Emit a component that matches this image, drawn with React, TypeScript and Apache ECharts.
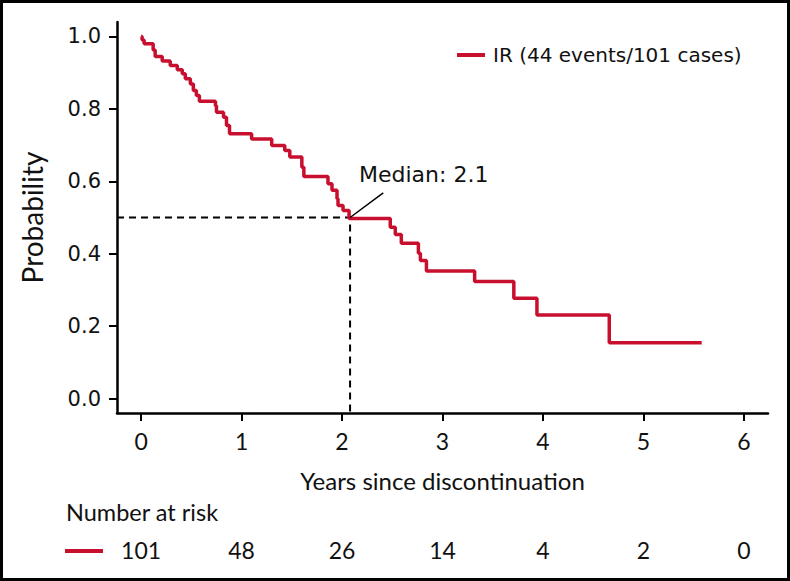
import React, { useEffect, useRef } from 'react';
import * as echarts from 'echarts';

// Kaplan-Meier step curve (time in years, survival probability after each event)
const times = [0, 0.01, 0.03, 0.12, 0.14, 0.21, 0.29, 0.36, 0.41, 0.44, 0.49, 0.52, 0.55, 0.58, 0.74, 0.75, 0.82, 0.85, 0.88, 1.10, 1.30, 1.43, 1.48, 1.60, 1.62, 1.86, 1.90, 1.95, 1.96, 2.01, 2.07, 2.48, 2.53, 2.59, 2.76, 2.78, 2.84, 3.32, 3.71, 3.94, 4.66, 5.58];
const survival = [1.0, 0.99, 0.98, 0.963, 0.945, 0.932, 0.92, 0.908, 0.897, 0.883, 0.869, 0.851, 0.837, 0.821, 0.809, 0.791, 0.777, 0.754, 0.731, 0.717, 0.699, 0.685, 0.667, 0.639, 0.613, 0.593, 0.575, 0.552, 0.533, 0.519, 0.497, 0.473, 0.453, 0.429, 0.401, 0.381, 0.352, 0.323, 0.277, 0.231, 0.154, 0.154];

const xTicks = [0, 1, 2, 3, 4, 5, 6];
const yTicks = [0, 0.2, 0.4, 0.6, 0.8, 1.0];
const atRisk = [101, 48, 26, 14, 4, 2, 0];

const medianTime = 2.08;
const medianSurv = 0.5;
const medianLabel = 'Median: 2.1';
const leaderEnd = [2.41, 0.568];
const seriesName = 'IR (44 events/101 cases)';

const X_MIN = -0.24;
const X_MAX = 6.24;
const Y_MIN = -0.04;
const Y_MAX = 1.04;

const RED = '#c8102e';
const INK = '#111111';
const SANS = "'DejaVu Sans', sans-serif";
const COND = "Lato, sans-serif";

export default function App() {
  const ref = useRef<HTMLDivElement>(null);

  useEffect(() => {
    document.body.style.margin = '0';
    if (!ref.current) return;
    const chart = echarts.init(ref.current, undefined, { renderer: 'svg' });
    const kmData = times.map((t, i) => [t, survival[i]]);

    chart.setOption({
      animation: false,
      backgroundColor: '#ffffff',
      grid: [
        { left: 117, right: 22, top: 22, bottom: 168, outerBoundsMode: 'none' },
        { left: 117, right: 22, top: 530, height: 2, outerBoundsMode: 'none' },
      ],
      legend: {
        data: [seriesName],
        left: 457,
        top: 45,
        padding: 0,
        icon: 'rect',
        itemWidth: 28,
        itemHeight: 4,
        textStyle: { fontFamily: SANS, fontSize: 20, color: INK, padding: [0, 0, 0, 3] },
      },
      xAxis: [
        {
          type: 'value',
          gridIndex: 0,
          min: X_MIN,
          max: X_MAX,
          splitLine: { show: false },
          axisLine: { onZero: false, lineStyle: { color: '#000', width: 2.5 } },
          axisTick: { customValues: xTicks, length: 8, lineStyle: { color: '#000', width: 2 } },
          axisLabel: { customValues: xTicks, margin: 16, color: INK, fontFamily: COND, fontSize: 23 },
          name: 'Years since discontinuation',
          nameLocation: 'middle',
          nameGap: 55,
          nameTextStyle: { fontFamily: COND, fontSize: 24, color: INK },
        },
        {
          type: 'value',
          gridIndex: 1,
          min: X_MIN,
          max: X_MAX,
          splitLine: { show: false },
          axisLine: { show: false },
          axisTick: { show: false },
          axisLabel: {
            customValues: xTicks,
            margin: 6,
            color: INK,
            fontFamily: COND,
            fontSize: 23,
            formatter: (v: number) => String(atRisk[xTicks.indexOf(Math.round(v))]),
          },
        },
      ],
      yAxis: [
        {
          type: 'value',
          gridIndex: 0,
          min: Y_MIN,
          max: Y_MAX,
          splitLine: { show: false },
          axisLine: { show: true, onZero: false, lineStyle: { color: '#000', width: 2.5 } },
          axisTick: { show: true, customValues: yTicks, length: 8, lineStyle: { color: '#000', width: 2 } },
          axisLabel: {
            customValues: yTicks,
            margin: 16,
            color: INK,
            fontFamily: SANS,
            fontSize: 21,
            formatter: (v: number) => v.toFixed(1),
          },
          name: 'Probability',
          nameLocation: 'middle',
          nameGap: 71,
          nameTextStyle: { fontFamily: COND, fontSize: 28, color: INK },
        },
        {
          type: 'value',
          gridIndex: 1,
          show: false,
          min: 0,
          max: 1,
        },
      ],
      series: [
        {
          type: 'line',
          xAxisIndex: 0,
          yAxisIndex: 0,
          data: [[X_MIN, medianSurv], [medianTime, medianSurv], [medianTime, Y_MIN]],
          symbol: 'none',
          lineStyle: { color: '#000', width: 2, type: [7, 5] },
          silent: true,
          z: 1,
        },
        {
          type: 'line',
          xAxisIndex: 0,
          yAxisIndex: 0,
          data: [[medianTime, medianSurv], leaderEnd],
          symbol: 'none',
          lineStyle: { color: '#000', width: 1.5 },
          silent: true,
          z: 3,
        },
        {
          name: seriesName,
          type: 'line',
          xAxisIndex: 0,
          yAxisIndex: 0,
          step: 'end',
          data: kmData,
          symbol: 'none',
          color: RED,
          itemStyle: { color: RED },
          lineStyle: { color: RED, width: 3.5 },
          z: 2,
        },
      ],
      graphic: [
        {
          type: 'text',
          left: 359,
          top: 163,
          style: { text: medianLabel, fill: INK, font: `22px ${SANS}` },
        },
        {
          type: 'text',
          left: 66,
          top: 500,
          style: { text: 'Number at risk', fill: INK, font: `23.5px ${COND}` },
        },
        {
          type: 'rect',
          shape: { x: 65, y: 549, width: 38, height: 4 },
          style: { fill: RED },
        },
        {
          type: 'rect',
          shape: { x: 1.5, y: 1.5, width: 787, height: 578 },
          style: { fill: 'none', stroke: '#000', lineWidth: 3 },
          z: 100,
        },
      ],
    });

    return () => chart.dispose();
  }, []);

  return <div ref={ref} style={{ width: 790, height: 581 }} />;
}
